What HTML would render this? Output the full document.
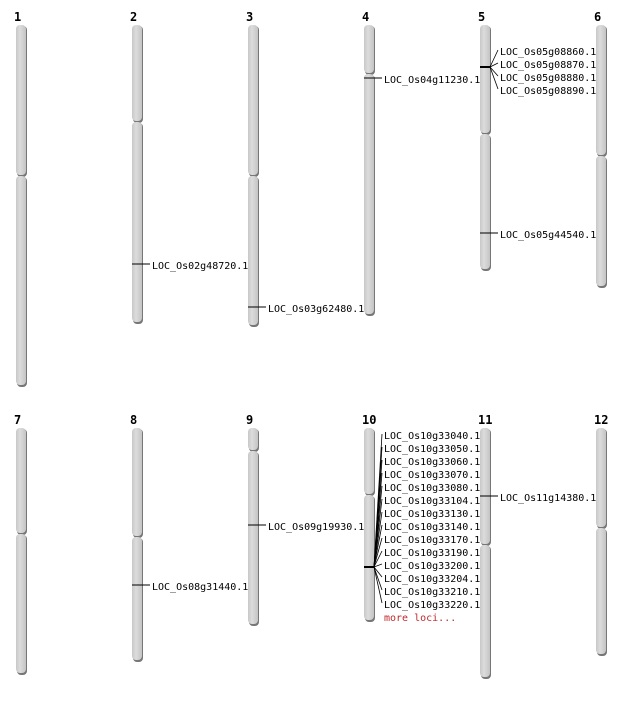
<!DOCTYPE html><html><head><style>body{margin:0;background:#fff}</style></head><body>
<svg width="634" height="700" xmlns="http://www.w3.org/2000/svg" font-family="DejaVu Sans Mono, Liberation Mono, monospace">
<defs><linearGradient id="g" x1="0" x2="1"><stop offset="0" stop-color="#c8c8c8"/><stop offset="0.4" stop-color="#dcdcdc"/><stop offset="1" stop-color="#c4c4c4"/></linearGradient></defs>
<g id="chr"></g>
<script>
var s=document.querySelector('#chr'),ns='http://www.w3.org/2000/svg';
function el(t,a,txt){var e=document.createElementNS(ns,t);for(var k in a)e.setAttribute(k,a[k]);if(txt)e.textContent=txt;s.appendChild(e);return e}
var C=[[16,'1',[[25,176],[176,386]]],[132,'2',[[25,122],[122,323]]],[248,'3',[[25,176],[176,326]]],[364,'4',[[25,74],[74,315]]],[480,'5',[[25,134],[134,270]]],[596,'6',[[25,156],[156,287]]],
[16,'7',[[428,534],[534,674]]],[132,'8',[[428,537],[537,661]]],[248,'9',[[428,451],[451,625]]],[364,'10',[[428,495],[495,621]]],[480,'11',[[428,545],[545,678]]],[596,'12',[[428,528],[528,655]]]];
C.forEach(function(c){var x=c[0];el('text',{x:x-2,y:c[2][0][0]-4,'font-size':12,'font-weight':'bold'},c[1]);
c[2].forEach(function(p){el('rect',{x:x+1,y:p[0]+1,width:10,height:p[1]-p[0],rx:4,fill:'#777'});el('rect',{x:x,y:p[0],width:10,height:p[1]-p[0]-1,rx:4,fill:'url(#g)'});});});
function mark(x,y,lab){el('line',{x1:x,y1:y,x2:x+18,y2:y,stroke:'#000'});el('text',{x:x+20,y:y+5,'font-size':10},lab)}
mark(132,264,'LOC_Os02g48720.1');mark(248,307,'LOC_Os03g62480.1');mark(364,78,'LOC_Os04g11230.1');mark(480,233,'LOC_Os05g44540.1');
mark(248,525,'LOC_Os09g19930.1');mark(132,585,'LOC_Os08g31440.1');mark(480,496,'LOC_Os11g14380.1');
function fan(x,y,ys,labs){el('line',{x1:x,y1:y,x2:x+10,y2:y,stroke:'#000','stroke-width':2});ys.forEach(function(yy,i){el('line',{x1:x+10,y1:y,x2:x+18,y2:yy,stroke:'#000','stroke-width':0.8});el('text',{x:x+20,y:yy+5,'font-size':10},labs[i])})}
fan(480,67,[50,63,76,89],['LOC_Os05g08860.1','LOC_Os05g08870.1','LOC_Os05g08880.1','LOC_Os05g08890.1']);
var L=['33040','33050','33060','33070','33080','33104','33130','33140','33170','33190','33200','33204','33210','33220'],Y=[];
L.forEach(function(v,i){Y.push(434+13*i)});
fan(364,567,Y,L.map(function(v){return 'LOC_Os10g'+v+'.1'}));
el('text',{x:384,y:621,'font-size':10,fill:'#c0282d'},'more loci...');
</script>
</svg></body></html>
